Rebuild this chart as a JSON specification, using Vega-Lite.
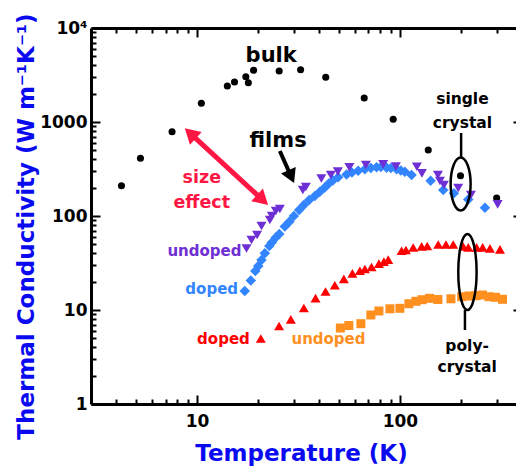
{
  "$schema": "https://vega.github.io/schema/vega-lite/v6.json",
  "usermeta": {"embedOptions": {"actions": false}},
  "width": 431,
  "height": 376,
  "autosize": {"type": "none"},
  "padding": {"left": 91, "top": 28, "right": -6, "bottom": 69},
  "config": {
    "view": {"stroke": null},
    "font": "DejaVu Sans",
    "axis": {
      "grid": false,
      "domainColor": "black",
      "domainWidth": 3,
      "tickColor": "black",
      "tickWidth": 2,
      "labelFont": "DejaVu Sans",
      "labelFontWeight": "bold",
      "labelFontSize": 17,
      "labelColor": "black",
      "titleFont": "DejaVu Sans",
      "titleFontWeight": "bold",
      "titleFontSize": 23,
      "titleColor": "#0a0af0"
    }
  },
  "datasets": {
    "bulk": [
      {"T": 4.24, "k": 210}, {"T": 5.26, "k": 411}, {"T": 7.53, "k": 788},
      {"T": 10.5, "k": 1581}, {"T": 14.1, "k": 2415}, {"T": 15.3, "k": 2665},
      {"T": 17.4, "k": 3033}, {"T": 17.9, "k": 2618}, {"T": 19.0, "k": 3548},
      {"T": 25.4, "k": 3490}, {"T": 32.4, "k": 3600}, {"T": 43.1, "k": 2990},
      {"T": 66.7, "k": 1800}, {"T": 92.7, "k": 1068}, {"T": 138, "k": 504},
      {"T": 199, "k": 268}, {"T": 300, "k": 155}
    ],
    "filmUndoped": [
      {"T": 17.53, "k": 45.1}, {"T": 18.55, "k": 55.6}, {"T": 19.77, "k": 62.8},
      {"T": 20.78, "k": 78.3}, {"T": 22.85, "k": 90.6}, {"T": 23.37, "k": 100},
      {"T": 24.45, "k": 113}, {"T": 25.59, "k": 118.7}, {"T": 33.22, "k": 189},
      {"T": 34.38, "k": 203.5}, {"T": 41.0, "k": 250.6}, {"T": 45.66, "k": 273},
      {"T": 49.45, "k": 297}, {"T": 56.36, "k": 329.6}, {"T": 67.97, "k": 348.9},
      {"T": 82.74, "k": 354.8}, {"T": 95.56, "k": 336.3}, {"T": 121.3, "k": 334.5},
      {"T": 128.4, "k": 284.6}, {"T": 154, "k": 273}, {"T": 157.6, "k": 235.6},
      {"T": 164.9, "k": 213.7}, {"T": 193.9, "k": 198.6}, {"T": 224, "k": 167.3},
      {"T": 303.4, "k": 133.2}
    ],
    "filmDoped": [
      {"T": 17.19, "k": 15.92}, {"T": 18.41, "k": 20.6}, {"T": 19.37, "k": 26.0},
      {"T": 20.04, "k": 29.4}, {"T": 20.78, "k": 34.0}, {"T": 21.58, "k": 40.1},
      {"T": 22.71, "k": 47.96}, {"T": 23.37, "k": 52.3}, {"T": 24.45, "k": 59.1},
      {"T": 25.44, "k": 64.3}, {"T": 27.08, "k": 77.3}, {"T": 28.5, "k": 86.9},
      {"T": 29.99, "k": 100}, {"T": 31.85, "k": 115.8}, {"T": 33.61, "k": 130.9},
      {"T": 35.69, "k": 148}, {"T": 38.08, "k": 163.2}, {"T": 40.31, "k": 181.3},
      {"T": 42.66, "k": 201}, {"T": 44.64, "k": 221.7}, {"T": 46.72, "k": 238.6},
      {"T": 49.61, "k": 258}, {"T": 54.59, "k": 276.4}, {"T": 57.99, "k": 290.3},
      {"T": 62.28, "k": 303.4}, {"T": 67.2, "k": 314}, {"T": 71.94, "k": 324.2},
      {"T": 76.74, "k": 329.6}, {"T": 80.6, "k": 332.1}, {"T": 86.0, "k": 326.5},
      {"T": 90.29, "k": 324.2}, {"T": 96.32, "k": 314}, {"T": 101.1, "k": 304.8},
      {"T": 105.8, "k": 296}, {"T": 114.2, "k": 273}, {"T": 141.8, "k": 237.4},
      {"T": 163.6, "k": 189.1}, {"T": 184.6, "k": 174.4}, {"T": 217.3, "k": 149.8},
      {"T": 262.7, "k": 122.5}
    ],
    "polyDoped": [
      {"T": 20.62, "k": 4.975}, {"T": 25.38, "k": 6.757}, {"T": 28.99, "k": 7.96},
      {"T": 33.61, "k": 10.5}, {"T": 38.38, "k": 13.35}, {"T": 42.99, "k": 15.73},
      {"T": 47.77, "k": 18.32}, {"T": 52.93, "k": 21.47}, {"T": 58.32, "k": 24.57},
      {"T": 63.5, "k": 26.18}, {"T": 67.2, "k": 27.3}, {"T": 72.5, "k": 28.7},
      {"T": 78.8, "k": 31.2}, {"T": 83.4, "k": 32.65}, {"T": 87.6, "k": 34.3},
      {"T": 101.9, "k": 42.7}, {"T": 107.1, "k": 43.5}, {"T": 116.3, "k": 46.2},
      {"T": 128, "k": 47.6}, {"T": 136.4, "k": 47.97}, {"T": 154.5, "k": 49.8},
      {"T": 168.7, "k": 49.8}, {"T": 183.2, "k": 49.8}, {"T": 205.3, "k": 47.4},
      {"T": 217.3, "k": 46.45}, {"T": 238.9, "k": 46.45}, {"T": 255.9, "k": 46.45},
      {"T": 278, "k": 45.3}, {"T": 311.5, "k": 44.2}
    ],
    "polyUndoped": [
      {"T": 50.87, "k": 6.43}, {"T": 56.02, "k": 6.84}, {"T": 64.23, "k": 7.15},
      {"T": 71.92, "k": 8.85}, {"T": 78.8, "k": 9.76}, {"T": 89.3, "k": 10.3},
      {"T": 100, "k": 10.42}, {"T": 110.8, "k": 11.67}, {"T": 120, "k": 12.38},
      {"T": 128.8, "k": 12.87}, {"T": 140.1, "k": 13.32}, {"T": 154, "k": 12.93},
      {"T": 178.5, "k": 13.16}, {"T": 201.6, "k": 13.85}, {"T": 218.9, "k": 14.09},
      {"T": 237.1, "k": 14.2}, {"T": 255.3, "k": 14.44}, {"T": 274.9, "k": 13.85},
      {"T": 296, "k": 13.65}, {"T": 320.5, "k": 13.0}
    ],
    "bigLabels": [
      {"T": 23.2, "k": 4381, "text": "bulk"},
      {"T": 25.1, "k": 546, "text": "films"}
    ],
    "crystalLabels": [
      {"T": 203.4, "k": 1540, "text": "single"},
      {"T": 203.4, "k": 869, "text": "crystal"},
      {"T": 214.6, "k": 3.69, "text": "poly-"},
      {"T": 214.6, "k": 2.207, "text": "crystal"}
    ],
    "sizeEffect": [
      {"T": 10.55, "k": 226, "text": "size"},
      {"T": 10.55, "k": 120.8, "text": "effect"}
    ]
  },
  "resolve": {"axis": {"x": "independent", "y": "independent"}},
  "layer": [
    {
      "data": {"name": "bulk"},
      "mark": {"type": "point", "shape": "circle", "filled": true, "size": 50, "color": "black", "opacity": 1},
      "encoding": {
        "x": {"field": "T", "type": "quantitative", "scale": {"type": "log", "domain": [3, 400], "nice": false},
          "axis": {"orient": "bottom", "values": [10, 100], "tickSize": -9, "labelPadding": 18,
            "labelExpr": "format(datum.value, 'd')",
            "title": "Temperature (K)", "titleX": 210, "titleY": 56, "titleBaseline": "alphabetic", "titleAlign": "center"}},
        "y": {"field": "k", "type": "quantitative", "scale": {"type": "log", "domain": [1, 10000], "nice": false},
          "axis": {"orient": "left", "values": [1, 10, 100, 1000, 10000], "tickSize": -9, "labelPadding": 13,
            "labelExpr": "datum.value >= 10000 ? '10⁴' : format(datum.value, 'd')",
            "title": "Thermal Conductivity (W m⁻¹K⁻¹)", "titleAngle": -90, "titleX": -58, "titleY": 198,
            "titleBaseline": "alphabetic", "titleAlign": "center"}}
      }
    },
    {
      "data": {"name": "filmDoped"},
      "mark": {"type": "point", "shape": "diamond", "filled": true, "size": 110, "color": "#3385ff", "opacity": 1},
      "encoding": {
        "x": {"field": "T", "type": "quantitative", "scale": {"type": "log", "domain": [3, 400], "nice": false},
          "axis": {"orient": "bottom", "values": [4, 5, 6, 7, 8, 9, 20, 30, 40, 50, 60, 70, 80, 90, 200, 300, 400],
            "tickSize": -5, "labels": false, "domain": false, "title": null}},
        "y": {"field": "k", "type": "quantitative", "scale": {"type": "log", "domain": [1, 10000], "nice": false},
          "axis": {"orient": "left", "values": [2, 3, 4, 5, 6, 7, 8, 9, 20, 30, 40, 50, 60, 70, 80, 90, 200, 300, 400, 500, 600, 700, 800, 900, 2000, 3000, 4000, 5000, 6000, 7000, 8000, 9000],
            "tickSize": -5, "labels": false, "domain": false, "title": null}}
      }
    },
    {
      "data": {"name": "filmUndoped"},
      "mark": {"type": "point", "shape": "triangle-down", "filled": true, "size": 100, "color": "#6e2fd4", "opacity": 1},
      "encoding": {
        "x": {"field": "T", "type": "quantitative", "scale": {"type": "log", "domain": [3, 400], "nice": false},
          "axis": {"orient": "top", "values": [10, 100], "tickSize": -9, "labels": false, "title": null}},
        "y": {"field": "k", "type": "quantitative", "scale": {"type": "log", "domain": [1, 10000], "nice": false},
          "axis": {"orient": "right", "values": [1, 10, 100, 1000, 10000], "tickSize": -9, "labels": false, "title": null}}
      }
    },
    {
      "data": {"name": "polyDoped"},
      "mark": {"type": "point", "shape": "triangle-up", "filled": true, "size": 100, "color": "#ff0000", "opacity": 1},
      "encoding": {
        "x": {"field": "T", "type": "quantitative", "scale": {"type": "log", "domain": [3, 400], "nice": false},
          "axis": {"orient": "top", "values": [4, 5, 6, 7, 8, 9, 20, 30, 40, 50, 60, 70, 80, 90, 200, 300, 400],
            "tickSize": -5, "labels": false, "domain": false, "title": null}},
        "y": {"field": "k", "type": "quantitative", "scale": {"type": "log", "domain": [1, 10000], "nice": false},
          "axis": {"orient": "right", "values": [2, 3, 4, 5, 6, 7, 8, 9, 20, 30, 40, 50, 60, 70, 80, 90, 200, 300, 400, 500, 600, 700, 800, 900, 2000, 3000, 4000, 5000, 6000, 7000, 8000, 9000],
            "tickSize": -5, "labels": false, "domain": false, "title": null}}
      }
    },
    {
      "data": {"name": "polyUndoped"},
      "mark": {"type": "point", "shape": "square", "filled": true, "size": 81, "color": "#ff8f1f", "opacity": 1},
      "encoding": {
        "x": {"field": "T", "type": "quantitative", "scale": {"type": "log", "domain": [3, 400], "nice": false}, "axis": null},
        "y": {"field": "k", "type": "quantitative", "scale": {"type": "log", "domain": [1, 10000], "nice": false}, "axis": null}
      }
    },
    {
      "data": {"values": [{"T": 199.3, "k": 219}]},
      "mark": {"type": "point", "shape": "M0,-1A0.377,1,0,1,1,0,1A0.377,1,0,1,1,0,-1Z", "filled": false, "size": 2809, "color": "black", "strokeWidth": 2.5, "opacity": 1},
      "encoding": {
        "x": {"field": "T", "type": "quantitative", "scale": {"type": "log", "domain": [3, 400], "nice": false}, "axis": null},
        "y": {"field": "k", "type": "quantitative", "scale": {"type": "log", "domain": [1, 10000], "nice": false}, "axis": null}
      }
    },
    {
      "data": {"values": [{"T": 215.3, "k": 25.37}]},
      "mark": {"type": "point", "shape": "M0,-1A0.241,1,0,1,1,0,1A0.241,1,0,1,1,0,-1Z", "filled": false, "size": 5776, "color": "black", "strokeWidth": 2.5, "opacity": 1},
      "encoding": {
        "x": {"field": "T", "type": "quantitative", "scale": {"type": "log", "domain": [3, 400], "nice": false}, "axis": null},
        "y": {"field": "k", "type": "quantitative", "scale": {"type": "log", "domain": [1, 10000], "nice": false}, "axis": null}
      }
    },
    {
      "data": {"values": [{"T": 200.4, "k": 764, "k2": 421}, {"T": 209.3, "k": 10, "k2": 6.13}]},
      "mark": {"type": "rule", "color": "black", "strokeWidth": 2.5},
      "encoding": {
        "x": {"field": "T", "type": "quantitative", "scale": {"type": "log", "domain": [3, 400], "nice": false}, "axis": null},
        "y": {"field": "k", "type": "quantitative", "scale": {"type": "log", "domain": [1, 10000], "nice": false}, "axis": null},
        "y2": {"field": "k2"}
      }
    },
    {
      "data": {"values": [{"T": 9.26, "k": 756.3, "T2": 21.04, "k2": 148.4}]},
      "mark": {"type": "rule", "color": "#ff1744", "strokeWidth": 5},
      "encoding": {
        "x": {"field": "T", "type": "quantitative", "scale": {"type": "log", "domain": [3, 400], "nice": false}, "axis": null},
        "y": {"field": "k", "type": "quantitative", "scale": {"type": "log", "domain": [1, 10000], "nice": false}, "axis": null},
        "x2": {"field": "T2"},
        "y2": {"field": "k2"}
      }
    },
    {
      "data": {"values": [{"T": 9.26, "k": 756.3}]},
      "mark": {"type": "point", "shape": "triangle-up", "filled": true, "size": 300, "angle": 312.6, "color": "#ff1744", "opacity": 1},
      "encoding": {
        "x": {"field": "T", "type": "quantitative", "scale": {"type": "log", "domain": [3, 400], "nice": false}, "axis": null},
        "y": {"field": "k", "type": "quantitative", "scale": {"type": "log", "domain": [1, 10000], "nice": false}, "axis": null}
      }
    },
    {
      "data": {"values": [{"T": 21.04, "k": 148.4}]},
      "mark": {"type": "point", "shape": "triangle-up", "filled": true, "size": 300, "angle": 132.6, "color": "#ff1744", "opacity": 1},
      "encoding": {
        "x": {"field": "T", "type": "quantitative", "scale": {"type": "log", "domain": [3, 400], "nice": false}, "axis": null},
        "y": {"field": "k", "type": "quantitative", "scale": {"type": "log", "domain": [1, 10000], "nice": false}, "axis": null}
      }
    },
    {
      "data": {"values": [{"T": 25.59, "k": 491.5, "T2": 29.12, "k2": 262.5}]},
      "mark": {"type": "rule", "color": "black", "strokeWidth": 4},
      "encoding": {
        "x": {"field": "T", "type": "quantitative", "scale": {"type": "log", "domain": [3, 400], "nice": false}, "axis": null},
        "y": {"field": "k", "type": "quantitative", "scale": {"type": "log", "domain": [1, 10000], "nice": false}, "axis": null},
        "x2": {"field": "T2"},
        "y2": {"field": "k2"}
      }
    },
    {
      "data": {"values": [{"T": 29.12, "k": 262.5}]},
      "mark": {"type": "point", "shape": "triangle-up", "filled": true, "size": 260, "angle": 155.9, "color": "black", "opacity": 1},
      "encoding": {
        "x": {"field": "T", "type": "quantitative", "scale": {"type": "log", "domain": [3, 400], "nice": false}, "axis": null},
        "y": {"field": "k", "type": "quantitative", "scale": {"type": "log", "domain": [1, 10000], "nice": false}, "axis": null}
      }
    },
    {
      "data": {"name": "bigLabels"},
      "mark": {"type": "text", "font": "DejaVu Sans", "fontWeight": "bold", "fontSize": 21, "color": "black", "align": "center", "baseline": "alphabetic"},
      "encoding": {
        "x": {"field": "T", "type": "quantitative", "scale": {"type": "log", "domain": [3, 400], "nice": false}, "axis": null},
        "y": {"field": "k", "type": "quantitative", "scale": {"type": "log", "domain": [1, 10000], "nice": false}, "axis": null},
        "text": {"field": "text"}
      }
    },
    {
      "data": {"name": "crystalLabels"},
      "mark": {"type": "text", "font": "DejaVu Sans", "fontWeight": "bold", "fontSize": 15.5, "color": "black", "align": "center", "baseline": "alphabetic"},
      "encoding": {
        "x": {"field": "T", "type": "quantitative", "scale": {"type": "log", "domain": [3, 400], "nice": false}, "axis": null},
        "y": {"field": "k", "type": "quantitative", "scale": {"type": "log", "domain": [1, 10000], "nice": false}, "axis": null},
        "text": {"field": "text"}
      }
    },
    {
      "data": {"name": "sizeEffect"},
      "mark": {"type": "text", "font": "DejaVu Sans", "fontWeight": "bold", "fontSize": 17.5, "color": "#ff1744", "align": "center", "baseline": "alphabetic"},
      "encoding": {
        "x": {"field": "T", "type": "quantitative", "scale": {"type": "log", "domain": [3, 400], "nice": false}, "axis": null},
        "y": {"field": "k", "type": "quantitative", "scale": {"type": "log", "domain": [1, 10000], "nice": false}, "axis": null},
        "text": {"field": "text"}
      }
    },
    {
      "data": {"values": [{"T": 16.56, "k": 37.1, "text": "undoped"}]},
      "mark": {"type": "text", "font": "DejaVu Sans", "fontWeight": "bold", "fontSize": 15, "color": "#6e2fd4", "align": "right", "baseline": "alphabetic"},
      "encoding": {
        "x": {"field": "T", "type": "quantitative", "scale": {"type": "log", "domain": [3, 400], "nice": false}, "axis": null},
        "y": {"field": "k", "type": "quantitative", "scale": {"type": "log", "domain": [1, 10000], "nice": false}, "axis": null},
        "text": {"field": "text"}
      }
    },
    {
      "data": {"values": [{"T": 15.93, "k": 14.62, "text": "doped"}]},
      "mark": {"type": "text", "font": "DejaVu Sans", "fontWeight": "bold", "fontSize": 15, "color": "#3385ff", "align": "right", "baseline": "alphabetic"},
      "encoding": {
        "x": {"field": "T", "type": "quantitative", "scale": {"type": "log", "domain": [3, 400], "nice": false}, "axis": null},
        "y": {"field": "k", "type": "quantitative", "scale": {"type": "log", "domain": [1, 10000], "nice": false}, "axis": null},
        "text": {"field": "text"}
      }
    },
    {
      "data": {"values": [{"T": 18.2, "k": 4.3, "text": "doped"}]},
      "mark": {"type": "text", "font": "DejaVu Sans", "fontWeight": "bold", "fontSize": 15, "color": "#ff0000", "align": "right", "baseline": "alphabetic"},
      "encoding": {
        "x": {"field": "T", "type": "quantitative", "scale": {"type": "log", "domain": [3, 400], "nice": false}, "axis": null},
        "y": {"field": "k", "type": "quantitative", "scale": {"type": "log", "domain": [1, 10000], "nice": false}, "axis": null},
        "text": {"field": "text"}
      }
    },
    {
      "data": {"values": [{"T": 29.2, "k": 4.3, "text": "undoped"}]},
      "mark": {"type": "text", "font": "DejaVu Sans", "fontWeight": "bold", "fontSize": 15, "color": "#ff8f1f", "align": "left", "baseline": "alphabetic"},
      "encoding": {
        "x": {"field": "T", "type": "quantitative", "scale": {"type": "log", "domain": [3, 400], "nice": false}, "axis": null},
        "y": {"field": "k", "type": "quantitative", "scale": {"type": "log", "domain": [1, 10000], "nice": false}, "axis": null},
        "text": {"field": "text"}
      }
    }
  ]
}
